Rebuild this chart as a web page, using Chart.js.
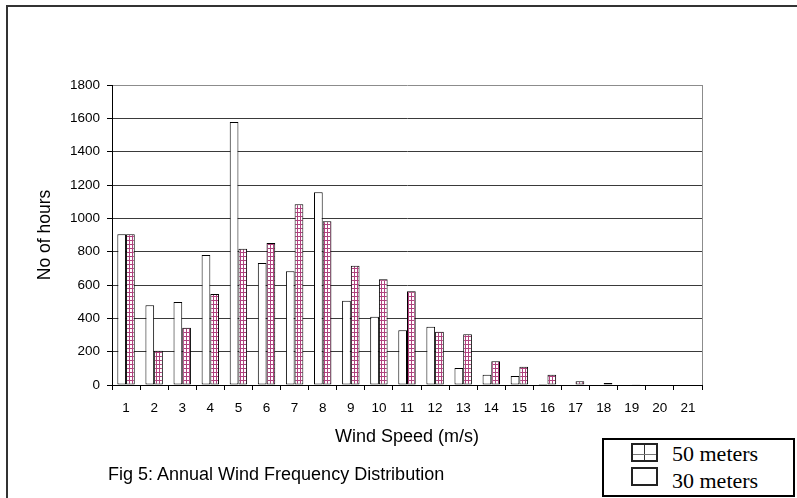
<!DOCTYPE html>
<html>
<head>
<meta charset="utf-8">
<script src="https://cdn.jsdelivr.net/npm/chart.js@4.4.0/dist/chart.umd.min.js"></script>
<style>
  body { margin: 0; background: #fff; }
  #wrap { position: relative; width: 797px; height: 498px; overflow: hidden; }
  #frame { position: absolute; left: 6px; top: 5px; width: 900px; height: 600px;
    border-left: 2px solid #333; border-top: 2px solid #333; }
  #chart { position: absolute; left: 0; top: 0; }
  #caption { position: absolute; left: 108px; top: 464px;
    font: 18px/20px "Liberation Sans", Arial, sans-serif; color: #000; white-space: nowrap; }
  #legend { position: absolute; left: 602px; top: 438px; width: 189px; height: 55px;
    border: 2px solid #000; background: #fff; font: 22px "Liberation Serif", "Times New Roman", serif; }
  .key { position: absolute; left: 27px; width: 23px; height: 15px; border: 2px solid #222; background: #fff; }
  .key.grid::before { content: ""; position: absolute; left: 11px; top: 0; width: 1px; height: 15px; background: #333; }
  .key.grid::after { content: ""; position: absolute; left: 0; top: 9px; width: 23px; height: 1px; background: #777; }
  .lbl { position: absolute; left: 68px; line-height: 22px; white-space: nowrap; }
</style>
</head>
<body>
<div id="wrap">
  <div id="frame"></div>
  <canvas id="chart" width="797" height="498"></canvas>
  <div id="caption">Fig 5: Annual Wind Frequency Distribution</div>
  <div id="legend">
    <div class="key grid" style="top:3px"></div><div class="lbl" style="top:3px">50 meters</div>
    <div class="key" style="top:27px"></div><div class="lbl" style="top:30px">30 meters</div>
  </div>
</div>
<script>
// Wind speed bins (m/s) and hours per year at each height
const speeds = ["1", "2", "3", "4", "5", "6", "7", "8", "9", "10", "11",
  "12", "13", "14", "15", "16", "17", "18", "19", "20", "21"];
const hours30 = [905, 478, 498, 780, 1578, 732, 682, 1156, 506, 410, 328,
  350, 102, 62, 54, 6, 0, 0, 0, 0, 0];
const hours50 = [905, 206, 344, 546, 818, 852, 1084, 982, 716, 634, 562,
  320, 304, 142, 110, 62, 22, 12, 5, 0, 0];
const yMax = 1800;
const yStep = 200;

const FONT = "'Liberation Sans', Arial, sans-serif";

// pink check pattern for the 50 m bars
function checkPattern() {
  let c = document.createElement("canvas");
  c.width = 3;
  c.height = 4;
  let g = c.getContext("2d");
  g.fillStyle = "#fff";
  g.fillRect(0, 0, 3, 4);
  g.fillStyle = "#b0427e";
  g.fillRect(0, 0, 1, 4);
  g.fillRect(0, 0, 3, 1);
  return g.createPattern(c, "repeat");
}

// grey frame on the right side of the plot area
const plotFrame = {
  id: "plotFrame",
  afterDraw(chart) {
    const { ctx, chartArea: a } = chart;
    ctx.save();
    ctx.strokeStyle = "#8c8c8c";
    ctx.lineWidth = 1;
    ctx.beginPath();
    ctx.moveTo(a.right + 0.5, a.top);
    ctx.lineTo(a.right + 0.5, a.bottom);
    ctx.stroke();
    ctx.restore();
  },
};

let ctx = document.getElementById("chart").getContext("2d");

new Chart(ctx, {
  type: "bar",
  data: {
    labels: speeds,
    datasets: [
      {
        label: "30 meters",
        data: hours30,
        backgroundColor: "#fff",
        borderColor: "#000",
        borderWidth: 1,
        borderSkipped: false,
      },
      {
        label: "50 meters",
        data: hours50,
        backgroundColor: checkPattern(),
        borderColor: "#000",
        borderWidth: 1,
        borderSkipped: false,
      },
    ],
  },
  options: {
    responsive: false,
    devicePixelRatio: 1,
    animation: false,
    layout: { padding: { left: 0, top: 85, right: 95, bottom: 0 } },
    datasets: { bar: { categoryPercentage: 0.62, barPercentage: 1 } },
    plugins: {
      legend: { display: false },
      tooltip: { enabled: false },
    },
    scales: {
      x: {
        afterFit: (s) => { s.height = 113; },
        grid: {
          drawOnChartArea: false,
          drawTicks: true,
          tickLength: 5,
          tickColor: "#000",
        },
        border: { display: true, color: "#000", width: 1 },
        ticks: { color: "#000", font: { family: FONT, size: 13.5 }, padding: 10, maxRotation: 0 },
        title: {
          display: true,
          text: "Wind Speed (m/s)",
          color: "#000",
          font: { family: FONT, size: 18 },
          padding: { top: 0, bottom: 50 },
        },
      },
      y: {
        min: 0,
        max: yMax,
        afterFit: (s) => { s.width = 112; },
        grid: {
          color: (c) => (c.tick && c.tick.value === yMax ? "#8c8c8c" : "#3a3a3a"),
          tickColor: "#000",
          tickLength: 5,
        },
        border: { display: true, color: "#000", width: 1 },
        ticks: {
          stepSize: yStep,
          color: "#000",
          font: { family: FONT, size: 13.5 },
          padding: 7,
          callback: (v) => String(v),
        },
        title: {
          display: true,
          text: "No of hours",
          color: "#000",
          font: { family: FONT, size: 17.5 },
          padding: { top: 35, bottom: 0 },
        },
      },
    },
  },
  plugins: [plotFrame],
});
</script>
</body>
</html>
